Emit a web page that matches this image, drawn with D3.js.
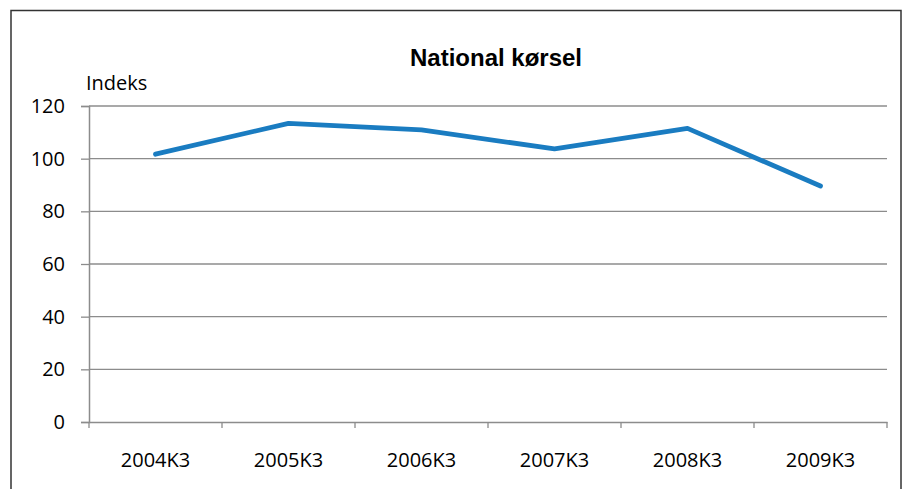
<!DOCTYPE html>
<html lang="da">
<head>
<meta charset="UTF-8">
<title>National kørsel</title>
<style>
  html, body { margin: 0; padding: 0; background: #fff; }
  #main { width: 906px; height: 489px; }
  svg { display: block; }
</style>
</head>
<body>
<div id="main"></div>
<script src="https://d3js.org/d3.v7.min.js"></script>
<script>
  // data
  const categories = ['2004K3', '2005K3', '2006K3', '2007K3', '2008K3', '2009K3']
  const values = [101.7, 113.4, 110.9, 103.7, 111.5, 89.6]
  const yTicks = [0, 20, 40, 60, 80, 100, 120]

  const width = 906
  const height = 489
  const plot = { left: 89, right: 887, top: 106, bottom: 422 }

  const svg = d3.select('#main').append('svg')
    .attr('width', width)
    .attr('height', height)

  // chart frame
  svg.append('rect')
    .attr('x', 11).attr('y', 10.5)
    .attr('width', 890).attr('height', 500)
    .attr('fill', '#fff')
    .attr('stroke', '#333')
    .attr('stroke-width', 1.5)

  const x = d3.scaleBand()
    .domain(categories)
    .range([plot.left, plot.right])
    .padding(0)

  const y = d3.scaleLinear()
    .domain([0, 120])
    .range([plot.bottom, plot.top])

  const font = '"Open Sans", "Liberation Sans", sans-serif'

  // gridlines
  svg.append('g')
    .selectAll('line')
    .data(yTicks.filter(d => d > 0))
    .join('line')
    .attr('x1', plot.left).attr('x2', plot.right)
    .attr('y1', d => y(d)).attr('y2', d => y(d))
    .attr('stroke', '#8c8c8c')
    .attr('stroke-width', 1.3)

  // y axis
  const yAxis = svg.append('g')
    .attr('transform', `translate(${plot.left},0)`)
    .call(d3.axisLeft(y).tickValues(yTicks).tickSize(8).tickPadding(16))
  yAxis.select('.domain').attr('stroke', '#8c8c8c').attr('stroke-width', 1.5)
  yAxis.selectAll('.tick line').attr('stroke', '#8c8c8c').attr('stroke-width', 1.3)
  yAxis.selectAll('text')
    .attr('fill', '#000')
    .style('font-family', font)
    .style('font-size', '20px')

  // x axis
  const xAxis = svg.append('g')
    .attr('transform', `translate(0,${plot.bottom})`)
    .call(d3.axisBottom(x).tickSize(0).tickPadding(31))
  xAxis.select('.domain').attr('stroke', '#8c8c8c').attr('stroke-width', 1.5)
  xAxis.selectAll('text')
    .attr('fill', '#000')
    .style('font-family', font)
    .style('font-size', '20px')

  // x tick marks at category boundaries
  const edges = categories.map(c => x(c)).concat([x(categories[categories.length - 1]) + x.bandwidth()])
  xAxis.selectAll('.edge')
    .data(edges)
    .join('line')
    .attr('class', 'edge')
    .attr('x1', d => d).attr('x2', d => d)
    .attr('y1', 0).attr('y2', 6)
    .attr('stroke', '#8c8c8c')
    .attr('stroke-width', 1.3)

  // series line
  const line = d3.line()
    .x((d, i) => x(categories[i]) + x.bandwidth() / 2)
    .y(d => y(d))

  svg.append('path')
    .datum(values)
    .attr('d', line)
    .attr('fill', 'none')
    .attr('stroke', '#1a7cc1')
    .attr('stroke-width', 4.8)
    .attr('stroke-linecap', 'round')
    .attr('stroke-linejoin', 'round')

  // title
  svg.append('text')
    .attr('x', 496)
    .attr('y', 66)
    .attr('text-anchor', 'middle')
    .style('font-family', '"Liberation Sans", Arial, sans-serif')
    .style('font-weight', 'bold')
    .style('font-size', '24px')
    .text('National kørsel')

  // axis unit label
  svg.append('text')
    .attr('x', 86)
    .attr('y', 90)
    .style('font-family', font)
    .style('font-size', '20px')
    .text('Indeks')
</script>
</body>
</html>
